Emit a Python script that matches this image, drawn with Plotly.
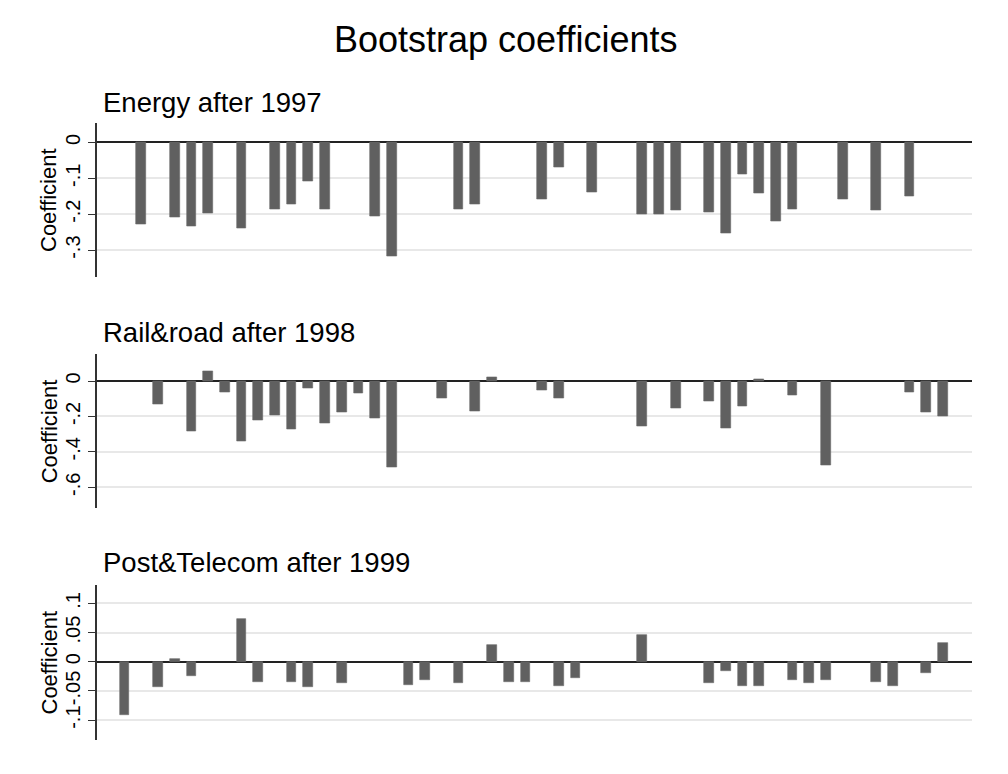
import plotly.graph_objects as go

# bar slots (shared category axis, 50 slots) and coefficients
energy_pos = [1, 3, 4, 5, 7, 9, 10, 11, 12, 15, 16, 20, 21, 25, 26, 28,
              31, 32, 33, 35, 36, 37, 38, 39, 40, 43, 45, 47]
energy_coef = [-0.228, -0.209, -0.235, -0.198, -0.240, -0.187, -0.173, -0.109,
               -0.187, -0.205, -0.317, -0.187, -0.173, -0.158, -0.069, -0.138,
               -0.199, -0.199, -0.190, -0.194, -0.253, -0.090, -0.142, -0.219,
               -0.187, -0.158, -0.190, -0.150]

rail_pos = [2, 4, 5, 6, 7, 8, 9, 10, 11, 12, 13, 14, 15, 16, 19, 21, 22,
            25, 26, 31, 33, 35, 36, 37, 38, 40, 42, 47, 48, 49]
rail_coef = [-0.132, -0.283, 0.057, -0.064, -0.343, -0.223, -0.192, -0.275,
             -0.042, -0.238, -0.177, -0.072, -0.213, -0.487, -0.100, -0.170,
             0.020, -0.053, -0.100, -0.253, -0.155, -0.117, -0.268, -0.140,
             0.010, -0.079, -0.477, -0.064, -0.177, -0.200]

post_pos = [0, 2, 3, 4, 7, 8, 10, 11, 13, 17, 18, 20, 22, 23, 24, 26, 27,
            31, 35, 36, 37, 38, 40, 41, 42, 45, 46, 48, 49]
post_coef = [-0.0916, -0.0435, 0.0046, -0.025, 0.074, -0.034, -0.034, -0.0435,
             -0.0365, -0.039, -0.032, -0.0365, 0.028, -0.034, -0.034, -0.0407,
             -0.027, 0.046, -0.0365, -0.0157, -0.0407, -0.0407, -0.032, -0.0365,
             -0.032, -0.034, -0.0407, -0.020, 0.032]

panel_titles = ["Energy after 1997", "Rail&road after 1998", "Post&Telecom after 1999"]
tick_vals = [[0, -0.1, -0.2, -0.3], [0, -0.2, -0.4, -0.6], [0.1, 0.05, 0, -0.05, -0.1]]
tick_text = [["0", "-.1", "-.2", "-.3"], ["0", "-.2", "-.4", "-.6"],
             [".1", ".05", "0", "-.05", "-.1"]]
y_ranges = [[-0.374, 0.053], [-0.719, 0.151], [-0.134, 0.1315]]

# page has an 8px body margin, so the figure is shrunk and shifted to match
OFF = 8
W, H = 1008 - OFF, 774 - OFF


def px(x):
    return (x - OFF) / W


def py(y):
    return 1 - (y - OFF) / H


# plot area pixel extents (top, bottom) for each panel, in page pixels
panel_px = [(123.3, 276.7), (354.3, 508.3), (585, 740)]
title_px = [102, 332, 562.5]

FONT = "Liberation Sans, Arial, sans-serif"
BAR = "#606060"

fig = go.Figure()
series = [(energy_pos, energy_coef), (rail_pos, rail_coef), (post_pos, post_coef)]
for i, (pos, coef) in enumerate(series):
    n = "" if i == 0 else str(i + 1)
    fig.add_trace(go.Bar(x=pos, y=coef, width=0.58, xaxis="x" + n, yaxis="y" + n,
                         marker=dict(color=BAR, line=dict(color="#6a6a6a", width=0.6)),
                         showlegend=False))

layout = dict(
    width=W, height=H,
    margin=dict(l=0, r=0, t=0, b=0),
    paper_bgcolor="white", plot_bgcolor="white",
    font=dict(family=FONT, color="black"),
    bargap=0,
    annotations=[],
)

for i in range(3):
    n = "" if i == 0 else str(i + 1)
    top, bot = panel_px[i]
    layout["xaxis" + n] = dict(
        domain=[px(97), px(972)], range=[-1.65, 50.74], anchor="y" + n,
        showticklabels=False, ticks="", showgrid=False, zeroline=False,
        showline=False, fixedrange=True,
    )
    layout["yaxis" + n] = dict(
        domain=[py(bot), py(top)], range=y_ranges[i], anchor="x" + n,
        tickvals=tick_vals[i], ticktext=tick_text[i], tickangle=-90,
        ticks="outside", ticklen=7, tickwidth=1.3, tickcolor="#333333",
        tickfont=dict(size=20, color="black", family=FONT),
        showline=True, linecolor="#333333", linewidth=1.5,
        showgrid=True, gridcolor="#e8e8e8", gridwidth=1.5,
        zeroline=True, zerolinecolor="#222222", zerolinewidth=2,
    )
    layout["annotations"].append(dict(
        text=panel_titles[i], xref="paper", yref="paper",
        x=px(101), y=py(title_px[i]), xanchor="left", yanchor="middle",
        showarrow=False, font=dict(size=27.5, color="black", family=FONT),
    ))
    layout["annotations"].append(dict(
        text="Coefficient", xref="paper", yref="paper", textangle=-90,
        x=px(49), y=py((top + bot) / 2), xanchor="center", yanchor="middle",
        showarrow=False, font=dict(size=22, color="black", family=FONT),
    ))

layout["annotations"].append(dict(
    text="Bootstrap coefficients", xref="paper", yref="paper",
    x=px(506), y=py(40), xanchor="center", yanchor="middle",
    showarrow=False, font=dict(size=36, color="black", family=FONT),
))

fig.update_layout(**layout)
fig.write_html("out.html")
